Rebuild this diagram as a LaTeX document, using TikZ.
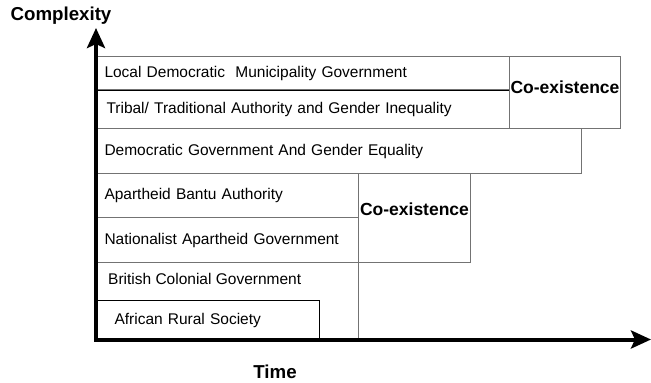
\documentclass[tikz,border=0pt]{standalone}
\usepackage{fontspec}
\setmainfont{Liberation Sans}
\usepackage{xcolor}
\usepackage{tikz}
\usetikzlibrary{arrows.meta, positioning}
\definecolor{rowline}{gray}{0.45}
\newcommand{\rowfont}{\fontsize{15.5}{18}\selectfont}
\newcommand{\tagfont}{\fontsize{17.5}{20}\selectfont\bfseries}
\newcommand{\axisfont}{\fontsize{18.7}{21}\selectfont\bfseries}
\tikzstyle{row} = [rectangle, draw=rowline, line width=1pt, anchor=north west, inner xsep=7pt, inner ysep=0pt, align=left, font=\rowfont]
\tikzstyle{coexist} = [rectangle, draw=rowline, line width=1pt, anchor=north west, inner sep=0pt, font=\tagfont]
\tikzstyle{rowtext} = [anchor=west, inner sep=0pt, font=\rowfont]
\tikzstyle{axislabel} = [inner sep=0pt, font=\axisfont]
\tikzstyle{axis} = [line width=4pt, {Stealth[length=20pt, width=18pt, inset=4pt]}-{Stealth[length=20pt, width=18pt, inset=4pt]}]

\begin{document}
\begin{tikzpicture}[x=1pt, y=-1pt]
        \useasboundingbox (0,0) rectangle (651,383);

        % top layer
        \node [row, text width=398pt, minimum height=33pt] (local) at (97,56) {Local Democratic\ \ Municipality Government};
        \node [row, text width=398pt, minimum height=39pt] (tribal) at (97,89) {\hspace{2pt}Tribal/ Traditional Authority and Gender Inequality};
        \draw [line width=1pt] (local.south west) -- (local.south east);
        \node [coexist, minimum width=111pt, minimum height=72pt, text depth=10pt] (coexist-top) at (509,56) {Co-existence};

        \node [row, text width=470pt, minimum height=45pt] (democratic) at (97,128) {Democratic Government And Gender Equality};

        % apartheid layer
        \node [row, text width=247pt, minimum height=44pt] (bantu) at (97,173) {Apartheid Bantu Authority};
        \node [row, text width=247pt, minimum height=45pt] (nationalist) at (97,217) {Nationalist Apartheid Government};
        \node [coexist, minimum width=112pt, minimum height=89pt, text depth=18pt] (coexist-mid) at (358,173) {Co-existence};

        % colonial layer
        \node [row, minimum width=261pt, minimum height=78pt] (colonial) at (97,262) {};
        \node [rowtext] (colonial-text) at (108,279) {British Colonial Government};
        \node [row, draw=black, inner xsep=0pt, text width=222pt, minimum height=40pt] (rural) at (97,300) {\hspace{17pt}African Rural Society};

        % axes
        \node [axislabel] (complexity) at (61,16) {Complexity};
        \node [axislabel] (time) at (275,372) {Time};
        \coordinate (ytip) at (96,28);
        \coordinate (origin) at (96,339.5);
        \coordinate (xtip) at (651,339.5);
        \draw [axis] (ytip) -- (origin) -- (xtip);
\end{tikzpicture}
\end{document}
